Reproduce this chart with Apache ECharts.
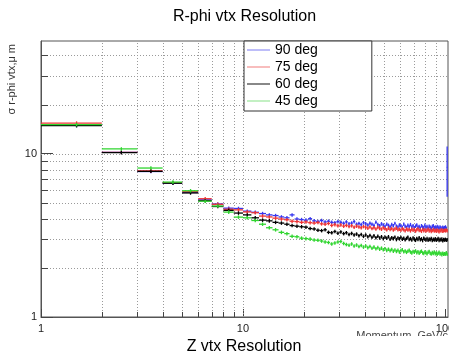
<!DOCTYPE html>
<html><head><meta charset="utf-8">
<script src="https://cdn.jsdelivr.net/npm/echarts@6/dist/echarts.min.js"></script>
<style>html,body{margin:0;padding:0;background:#fff}#c{width:449px;height:351px}</style>
</head><body><div id="c"></div>
<script>
// ---- data ----
const binLowEdges = [1,2,3,4,5,6,7,8,9,10,11,12,13,14,15,16,17,18,19,20,21,22,23,24,25,26,27,28,29,30,
  31,32,33,34,35,36,37,38,39,40,41,42,43,44,45,46,47,48,49,50,51,52,53,54,55,56,57,58,59,60,
  61,62,63,64,65,66,67,68,69,70,71,72,73,74,75,76,77,78,79,80,81,82,83,84,85,86,87,88,89,90,
  91,92,93,94,95,96,97,98,99,100,101,102];
const binWidth = 1;
const seriesNames = ['90 deg', '75 deg', '60 deg', '45 deg'];
const res90 = [14.9,10.2,7.78,6.6,5.8,5.22,4.92,4.64,4.62,
  4.45,4.38,4.30,4.22,4.18,4.10,4.05,4.22,3.98,3.95,
  3.92,4.00,3.88,3.85,3.90,3.82,3.86,3.80,3.78,3.84,
  3.80,3.75,3.82,3.72,3.76,3.84,3.70,3.74,3.68,3.78,
  3.72,3.66,3.75,3.70,3.64,3.80,3.68,3.62,3.72,3.66,
  3.60,3.70,3.64,3.58,3.68,3.62,3.74,3.60,3.56,3.66,
  3.62,3.55,3.70,3.60,3.54,3.64,3.58,3.68,3.56,3.62,
  3.52,3.60,3.66,3.55,3.58,3.50,3.62,3.56,3.52,3.64,
  3.54,3.58,3.50,3.60,3.55,3.48,3.58,3.62,3.52,3.56,
  3.50,3.58,3.54,3.48,3.56,3.52,3.46,3.55,3.50,3.52,
  3.56,3.50,8.25];
const res75 = [15.4,10.2,7.85,6.65,5.85,5.3,4.9,4.57,4.53,
  4.40,4.35,4.15,4.10,4.03,3.98,3.94,3.86,3.84,3.80,
  3.82,3.78,3.76,3.79,3.72,3.70,3.74,3.64,3.68,3.62,
  3.66,3.60,3.64,3.58,3.62,3.55,3.60,3.56,3.52,3.58,
  3.54,3.50,3.56,3.48,3.52,3.46,3.54,3.49,3.45,3.52,
  3.47,3.42,3.50,3.44,3.48,3.41,3.46,3.50,3.42,3.45,
  3.40,3.47,3.43,3.38,3.46,3.41,3.44,3.37,3.45,3.40,
  3.43,3.36,3.42,3.46,3.39,3.41,3.35,3.44,3.38,3.42,
  3.36,3.40,3.45,3.37,3.41,3.34,3.39,3.43,3.36,3.40,
  3.35,3.41,3.37,3.33,3.40,3.36,3.42,3.35,3.38,3.40,
  3.37,3.41,3.38];
const res60 = [14.85,10.15,7.8,6.6,5.75,5.15,4.75,4.5,4.33,
  4.22,4.05,3.92,3.88,3.80,3.76,3.70,3.63,3.60,3.57,
  3.55,3.48,3.46,3.40,3.38,3.42,3.30,3.28,3.34,3.26,
  3.32,3.24,3.28,3.20,3.25,3.18,3.22,3.15,3.20,3.12,
  3.18,3.10,3.16,3.08,3.14,3.06,3.12,3.05,3.10,3.02,
  3.08,3.04,3.10,3.00,3.06,3.02,3.08,2.98,3.05,3.01,
  3.07,2.99,3.04,2.97,3.03,3.08,2.98,3.02,2.96,3.05,
  3.00,2.95,3.03,2.98,3.06,2.97,3.01,2.94,3.04,2.99,
  2.96,3.02,2.95,3.00,2.97,3.03,2.94,2.99,2.96,3.01,
  2.95,2.98,3.02,2.94,2.99,2.96,3.00,2.93,2.98,2.96,
  2.99,2.95,2.97];
const res45 = [15.07,10.69,8.17,6.7,5.93,5.12,4.78,4.39,4.09,
  4.05,3.90,3.70,3.52,3.42,3.30,3.24,3.12,3.10,3.04,
  3.02,3.00,2.96,2.95,2.92,2.88,2.86,2.80,2.84,2.88,
  2.90,2.82,2.78,2.75,2.80,2.72,2.76,2.70,2.74,2.68,
  2.72,2.66,2.70,2.64,2.68,2.62,2.66,2.60,2.64,2.58,
  2.62,2.56,2.60,2.55,2.59,2.53,2.57,2.52,2.56,2.50,
  2.55,2.58,2.51,2.54,2.49,2.53,2.56,2.50,2.47,2.52,
  2.49,2.54,2.48,2.51,2.46,2.50,2.53,2.47,2.45,2.50,
  2.48,2.44,2.49,2.52,2.46,2.43,2.48,2.45,2.50,2.44,
  2.47,2.42,2.46,2.49,2.43,2.45,2.41,2.46,2.42,2.44,
  2.43,2.47,2.42];
const relativeError = 0.025;
const res90ErrorOverrides = {101: 2.8};
const xGridValues = [2,3,4,5,6,7,8,9,10,20,30,40,50,60,70,80,90];
const yGridValues = [2,3,4,5,6,7,8,9,10,20,30,40];
const xTickLabels = ['1', '10', '100'];
const yTickLabels = ['1', '10'];

// ---- chart ----
const X_MIN = 1, X_MAX = 103.5, Y_MIN = 1, Y_MAX = 49;
const FONT = "'Liberation Sans', Arial, Helvetica, sans-serif";
const colors = ['#3636f0', '#ee3434', '#000000', '#2fd52f'];
const legendColors = ['#7a7af2', '#f07a7a', '#111111', '#86e086'];

function buildHist(values, overrides) {
  return values.map((v, i) => [binLowEdges[i], binLowEdges[i] + binWidth, v,
    (overrides && overrides[i] != null) ? overrides[i] : v * relativeError]);
}
function histRender(color) {
  return function (params, api) {
    const lo = api.value(0), hi = api.value(1), v = api.value(2), e = api.value(3);
    const a = api.coord([lo, v]), b = api.coord([hi, v]);
    const xm = (lo + hi) / 2;
    const xc = api.coord([xm, v])[0];
    const t = api.coord([xm, v + e])[1], bt = api.coord([xm, Math.max(v - e, Y_MIN)])[1];
    return {type: 'group', children: [
      {type: 'line', shape: {x1: a[0], y1: a[1], x2: b[0], y2: b[1]}, style: {stroke: color, lineWidth: 1.3}},
      {type: 'line', shape: {x1: xc, y1: t, x2: xc, y2: bt}, style: {stroke: color, lineWidth: 1.3}}
    ]};
  };
}
function crisp(v) { return Math.round(v) + 0.5; }
function xGridRender(params, api) {
  const v = api.value(0);
  const p0 = api.coord([v, Y_MIN]), p1 = api.coord([v, Y_MAX]);
  const x = crisp(p0[0]);
  const ch = [{type: 'line', shape: {x1: x, y1: p0[1], x2: x, y2: p1[1]},
    style: {stroke: '#9a9a9a', lineWidth: 1, lineDash: [1, 2]}}];
  if (v !== 10) ch.push({type: 'line', shape: {x1: x, y1: p0[1], x2: x, y2: p0[1] - 5},
    style: {stroke: '#444', lineWidth: 1}});
  return {type: 'group', children: ch};
}
function yGridRender(params, api) {
  const v = api.value(1);
  const p0 = api.coord([X_MIN, v]), p1 = api.coord([X_MAX, v]);
  const y = crisp(p0[1]);
  const ch = [{type: 'line', shape: {x1: p0[0], y1: y, x2: p1[0], y2: y},
    style: {stroke: '#9a9a9a', lineWidth: 1, lineDash: [1, 2]}}];
  if (v !== 10) ch.push({type: 'line', shape: {x1: p0[0], y1: y, x2: p0[0] + 7, y2: y},
    style: {stroke: '#444', lineWidth: 1}});
  return {type: 'group', children: ch};
}
function powLabel(list) {
  return function (v) {
    const l = Math.log10(v);
    if (Math.abs(l - Math.round(l)) > 1e-6) return '';
    const s = String(Math.round(v));
    return list.indexOf(s) >= 0 ? s : '';
  };
}

const allValues = [res90, res75, res60, res45];
const dataSeries = seriesNames.map((name, i) => ({
  type: 'custom', name: name, coordinateSystem: 'cartesian2d',
  data: buildHist(allValues[i], i === 0 ? res90ErrorOverrides : null),
  encode: {x: [0, 1], y: 2},
  renderItem: histRender(colors[i]),
  itemStyle: {color: colors[i]},
  clip: true, silent: true, z: 5 + i
}));

const chart = echarts.init(document.getElementById('c'), null, {renderer: 'canvas'});
chart.setOption({
  animation: false,
  backgroundColor: '#ffffff',
  textStyle: {fontFamily: FONT},
  title: {
    text: 'R-phi vtx Resolution', left: 244.5, top: 9, padding: 0, textAlign: 'center',
    textStyle: {fontSize: 16, fontWeight: 'normal', color: '#000', fontFamily: FONT}
  },
  grid: {left: 41, right: 1, top: 41, bottom: 34, show: true, borderColor: '#555', borderWidth: 1,
    backgroundColor: '#fff', containLabel: false, outerBoundsMode: 'none'},
  xAxis: {
    type: 'log', logBase: 10, min: X_MIN, max: X_MAX,
    axisLine: {show: true, lineStyle: {color: '#555'}},
    axisTick: {show: true, inside: true, length: 8, lineStyle: {color: '#444'}},
    axisLabel: {formatter: powLabel(xTickLabels), fontSize: 11, color: '#222', margin: 6, fontFamily: FONT,
      showMaxLabel: false, hideOverlap: false},
    splitLine: {show: false}, minorTick: {show: false}
  },
  yAxis: {
    type: 'log', logBase: 10, min: Y_MIN, max: Y_MAX,
    axisLine: {show: true, lineStyle: {color: '#555'}},
    axisTick: {show: true, inside: true, length: 12, lineStyle: {color: '#444'}},
    axisLabel: {formatter: powLabel(yTickLabels), fontSize: 11, color: '#222', margin: 4, fontFamily: FONT, showMaxLabel: false},
    splitLine: {show: false}
  },
  legend: {
    orient: 'vertical', left: 244, top: 41, selectedMode: false,
    data: seriesNames.map((n, i) => ({name: n, itemStyle: {color: legendColors[i]}})),
    icon: 'rect', itemWidth: 23, itemHeight: 1, itemGap: 3,
    padding: [2, 54, 3, 3],
    backgroundColor: '#ffffff', borderColor: '#333', borderWidth: 1,
    textStyle: {fontSize: 14, lineHeight: 14, color: '#000', fontFamily: FONT},
    z: 20
  },
  graphic: [
    {type: 'text', x: 12, y: 44, rotation: Math.PI / 2, z: 10,
      style: {text: 'σ r-phi vtx,μ m', fontSize: 11, fontFamily: FONT, align: 'right', verticalAlign: 'middle', fill: '#333'}},
    {type: 'text', x: 448, y: 336, z: 10,
      style: {text: 'Momentum, GeV/c', fontSize: 11, fontFamily: FONT, align: 'right', verticalAlign: 'middle', fill: '#444'}},
    {type: 'rect', shape: {x: 0, y: 336, width: 449, height: 15}, z: 11, style: {fill: '#ffffff'}},
    {type: 'text', x: 244, y: 347, z: 12,
      style: {text: 'Z vtx Resolution', fontSize: 16, fontFamily: FONT, align: 'center', verticalAlign: 'middle', fill: '#000'}}
  ],
  series: [
    {type: 'custom', name: 'xgrid', coordinateSystem: 'cartesian2d', data: xGridValues.map(v => [v, Y_MIN]),
      encode: {x: 0, y: 1}, renderItem: xGridRender, silent: true, z: 1, clip: true},
    {type: 'custom', name: 'ygrid', coordinateSystem: 'cartesian2d', data: yGridValues.map(v => [X_MIN, v]),
      encode: {x: 0, y: 1}, renderItem: yGridRender, silent: true, z: 1, clip: true}
  ].concat(dataSeries)
});
</script></body></html>
